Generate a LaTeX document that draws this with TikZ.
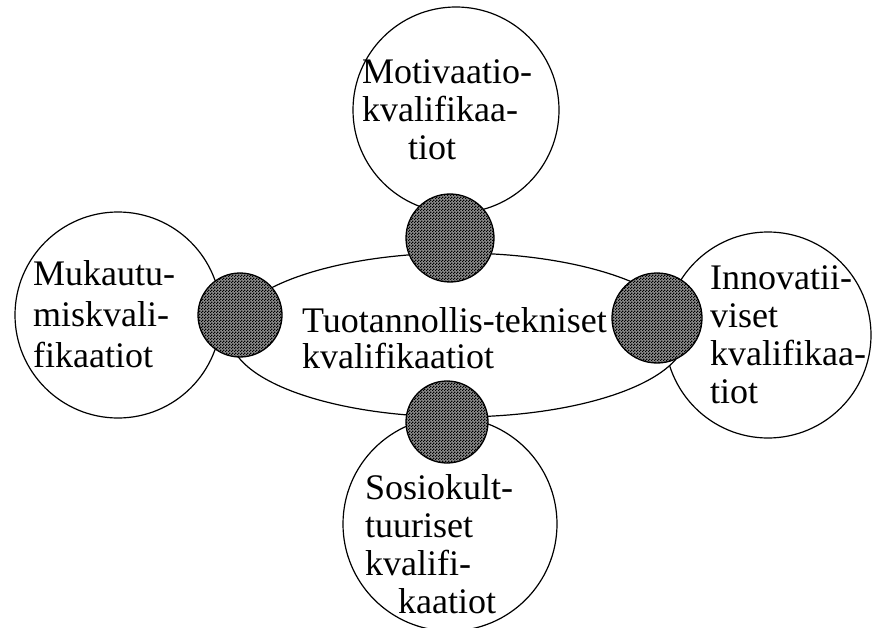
\documentclass[tikz,border=0pt]{standalone}
\usepackage{fontspec}
\setmainfont{Liberation Serif}
\usetikzlibrary{patterns}
\pgfdeclarepatternformonly{finecheck}{\pgfpointorigin}{\pgfqpoint{3pt}{3pt}}{\pgfqpoint{3pt}{3pt}}{%
  \pgfpathrectangle{\pgfpointorigin}{\pgfqpoint{1.6pt}{1.6pt}}%
  \pgfpathrectangle{\pgfqpoint{1.5pt}{1.5pt}}{\pgfqpoint{1.6pt}{1.6pt}}%
  \pgfusepath{fill}}
\begin{document}
\begin{tikzpicture}[x=1pt,y=-1pt,
  bigcirc/.style={circle,draw=black,line width=1.2pt,fill=white,inner sep=0pt},
  hub/.style={circle,draw=black,line width=1.3pt,fill=black!45,postaction={pattern=finecheck,pattern color=black},inner sep=0pt},
  lbl/.style={font=\fontsize{36}{38}\selectfont,align=left,inner sep=0pt,anchor=base west}]
\useasboundingbox (0,0) rectangle (872,628);
% big circles
\node[bigcirc,minimum size=206pt] (top) at (456,110) {};
\node[bigcirc,minimum size=206pt] (left) at (118,315) {};
\node[bigcirc,minimum size=206pt] (right) at (768,335) {};
\node[bigcirc,minimum size=214pt] (bottom) at (450,524) {};
% central ellipse
\draw[line width=1.2pt,fill=white] (458,335) ellipse [x radius=228, y radius=82];
\coordinate (center) at (458,335);
% hubs
\node[hub,minimum size=88pt] (htop) at (450,238) {};
\node[hub,minimum size=84pt] (hleft) at (240,315) {};
\node[hub,minimum size=90pt] (hright) at (657,318) {};
\node[hub,minimum size=82pt] (hbottom) at (447,422) {};
% labels (anchored at baseline of last line)
\node[lbl,font=\fontsize{36}{36}\selectfont] (tcenter) at (302,368) {Tuotannollis-tekniset\\kvalifikaatiot};
\node[lbl] (ttop) at (362,160) {Motivaatio-\\kvalifikaa-\\\hspace*{46pt}tiot};
\node[lbl,font=\fontsize{36}{41}\selectfont] (tleft) at (33,367) {Mukautu-\\miskvali-\\fikaatiot};
\node[lbl,font=\fontsize{36}{37.7}\selectfont] (tright) at (710,403) {Innovatii-\\viset\\kvalifikaa-\\tiot};
\node[lbl] (tbottom) at (365,613) {Sosiokult-\\tuuriset\\kvalifi-\\\hspace*{33pt}kaatiot};
\end{tikzpicture}
\end{document}
